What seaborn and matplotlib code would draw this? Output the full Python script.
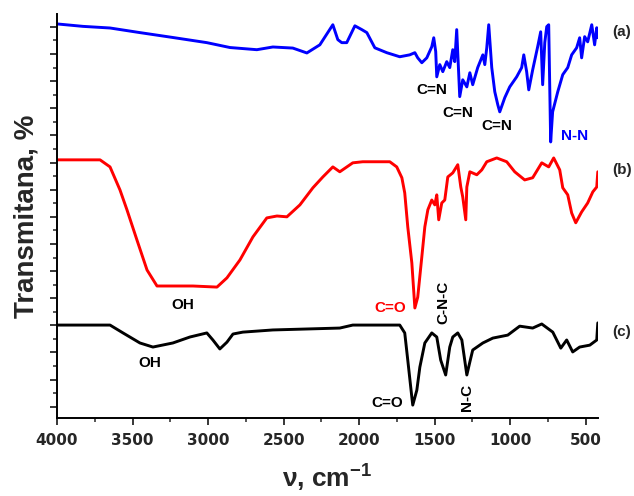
import matplotlib
matplotlib.use("Agg")
import matplotlib.pyplot as plt
import seaborn as sns
from matplotlib.ticker import MultipleLocator

# ------------------------------------------------------------
# Datos leidos del espectro (numero de onda en cm-1, transmitancia en u.a.)
# ------------------------------------------------------------
wn_a = [4000, 3828, 3649, 3451, 3233, 3008, 2855, 2677, 2571, 2439, 2346, 2260,
        2174, 2141, 2115, 2082, 2028, 1982, 1949, 1896, 1817, 1731, 1665, 1631,
        1612, 1585, 1552, 1519, 1506, 1493, 1486, 1466, 1446, 1420, 1400, 1380,
        1367, 1354, 1334, 1314, 1287, 1267, 1248, 1215, 1181, 1168, 1155, 1142,
        1122, 1102, 1082, 1069, 1036, 1003, 957, 924, 910, 891, 877, 851, 818,
        798, 785, 771, 758, 745, 732, 719, 685, 652, 619, 593, 560, 540, 527,
        507, 487, 460, 441, 427, 420]
tr_a = [14.53, 14.44, 14.38, 14.21, 14.03, 13.84, 13.66, 13.58, 13.68, 13.64,
        13.46, 13.76, 14.50, 13.95, 13.84, 13.84, 14.46, 14.32, 14.21, 13.65,
        13.47, 13.32, 13.39, 13.47, 13.28, 13.10, 13.28, 13.69, 14.02, 13.51,
        12.58, 13.03, 12.77, 13.14, 12.92, 13.58, 13.14, 14.32, 11.85, 12.47,
        12.21, 12.73, 12.29, 12.92, 13.39, 13.03, 13.65, 14.50, 12.92, 12.03,
        11.55, 11.29, 11.81, 12.21, 12.58, 12.92, 13.39, 12.77, 12.10, 12.84,
        13.69, 14.24, 12.29, 13.84, 14.43, 14.50, 10.18, 11.29, 12.03, 12.66,
        12.92, 13.39, 13.65, 14.02, 13.28, 14.06, 13.87, 14.50, 13.76, 14.39,
        14.02]

wn_b = [4000, 3715, 3649, 3583, 3537, 3471, 3404, 3338, 3100, 2941, 2875, 2789,
        2703, 2611, 2544, 2478, 2392, 2306, 2240, 2174, 2128, 2042, 1976, 1797,
        1751, 1717, 1698, 1678, 1651, 1631, 1612, 1585, 1565, 1545, 1519, 1499,
        1486, 1473, 1453, 1433, 1413, 1380, 1347, 1327, 1314, 1294, 1287, 1267,
        1221, 1188, 1155, 1089, 1023, 970, 904, 851, 791, 745, 712, 672, 652,
        619, 593, 566, 527, 487, 453, 427, 420]
tr_b = [9.52, 9.52, 9.26, 8.41, 7.68, 6.57, 5.46, 4.87, 4.87, 4.83, 5.17, 5.83,
        6.68, 7.38, 7.45, 7.42, 7.86, 8.49, 8.89, 9.26, 9.08, 9.41, 9.45, 9.45,
        9.26, 8.86, 8.30, 7.05, 5.72, 4.06, 4.46, 5.94, 7.05, 7.68, 8.04, 7.86,
        8.23, 7.31, 7.93, 8.04, 8.89, 9.04, 9.34, 8.52, 8.15, 7.31, 8.52, 9.08,
        8.97, 9.15, 9.45, 9.59, 9.45, 9.08, 8.78, 8.86, 9.41, 9.26, 9.59, 9.15,
        8.49, 8.23, 7.56, 7.20, 7.60, 7.93, 8.34, 8.52, 9.08]

wn_c = [4000, 3649, 3563, 3451, 3365, 3233, 3120, 3008, 2968, 2922, 2875, 2835,
        2770, 2571, 2128, 2042, 1731, 1698, 1678, 1651, 1645, 1618, 1598, 1565,
        1519, 1486, 1460, 1427, 1400, 1380, 1347, 1320, 1287, 1267, 1248, 1181,
        1115, 1016, 937, 851, 791, 718, 665, 626, 586, 540, 473, 427, 420]
tr_c = [3.43, 3.43, 3.14, 2.77, 2.62, 2.77, 2.99, 3.14, 2.88, 2.55, 2.80, 3.10,
        3.17, 3.25, 3.32, 3.43, 3.43, 3.14, 2.14, 0.77, 0.48, 1.03, 1.88, 2.77,
        3.14, 2.99, 2.14, 1.59, 2.62, 2.99, 3.14, 2.88, 1.59, 2.07, 2.51, 2.77,
        2.95, 3.06, 3.39, 3.32, 3.47, 3.17, 2.58, 2.88, 2.44, 2.62, 2.69, 2.88,
        3.51]

# etiquetas de bandas: (texto, x, y, color, rotacion)
bandas = [
    ("C=N", 1519, 12.10, "black", 0),
    ("C=N", 1347, 11.25, "black", 0),
    ("C=N", 1089, 10.77, "black", 0),
    ("N-N", 573, 10.41, "blue", 0),
    ("OH", 3166, 4.17, "black", 0),
    ("C=O", 1797, 4.06, "red", 0),
    ("C-N-C", 1440, 4.28, "black", 90),
    ("OH", 3385, 2.03, "black", 0),
    ("C=O", 1817, 0.55, "black", 0),
    ("N-C", 1287, 0.77, "black", 90),
]
muestras = [("(a)", wn_a, tr_a, "blue", 14.24),
            ("(b)", wn_b, tr_b, "red", 9.15),
            ("(c)", wn_c, tr_c, "black", 3.17)]

sns.set_theme(style="ticks")
plt.rcParams["font.family"] = ["Liberation Sans", "DejaVu Sans"]
plt.rcParams["font.weight"] = "bold"
plt.rcParams["mathtext.fontset"] = "custom"
plt.rcParams["mathtext.rm"] = "Liberation Sans:bold"
plt.rcParams["mathtext.bf"] = "Liberation Sans:bold"
plt.rcParams["mathtext.default"] = "rm"

fig = plt.figure(figsize=(6.34, 4.96), dpi=100)
ax = fig.add_axes([0.0899, 0.157, 0.853, 0.815])

for etiqueta, wn, tr, color, y_lab in muestras:
    sns.lineplot(x=wn, y=tr, color=color, linewidth=2.1, ax=ax, sort=False)
    ax.text(262, y_lab, etiqueta, fontsize=11, fontweight="bold",
            ha="center", va="center", clip_on=False)

for txt, x, y, color, rot in bandas:
    ax.text(x, y, txt, fontsize=11, fontweight="bold", color=color,
            ha="center", va="center", rotation=rot)

ax.set_xlim(4000, 420)
ax.set_ylim(0, 14.9)
ax.xaxis.set_major_locator(MultipleLocator(500))
ax.xaxis.set_minor_locator(MultipleLocator(250))
ax.yaxis.set_major_locator(MultipleLocator(1, offset=0.42))
ax.yaxis.set_minor_locator(MultipleLocator(0.5, offset=0.42))
ax.set_yticklabels([])
ax.tick_params(axis="both", which="major", length=5, width=1.3, direction="out")
ax.tick_params(axis="both", which="minor", length=3, width=1.1, direction="out")
ax.tick_params(axis="x", labelsize=11, pad=6)
for lab in ax.get_xticklabels():
    lab.set_fontweight("bold")
    lab.set_family(["DejaVu Sans"])

sns.despine(ax=ax)
for lado in ["left", "bottom"]:
    ax.spines[lado].set_linewidth(1.4)
    ax.spines[lado].set_color("black")

ax.set_xlabel("ν, cm$^{-1}$", fontsize=19, fontweight="bold")
ax.set_ylabel("Transmitana, %", fontsize=20, fontweight="bold")
ax.xaxis.set_label_coords(0.5, -0.11)
ax.yaxis.set_label_coords(-0.032, 0.5)

fig.savefig("out.png", dpi=100)
